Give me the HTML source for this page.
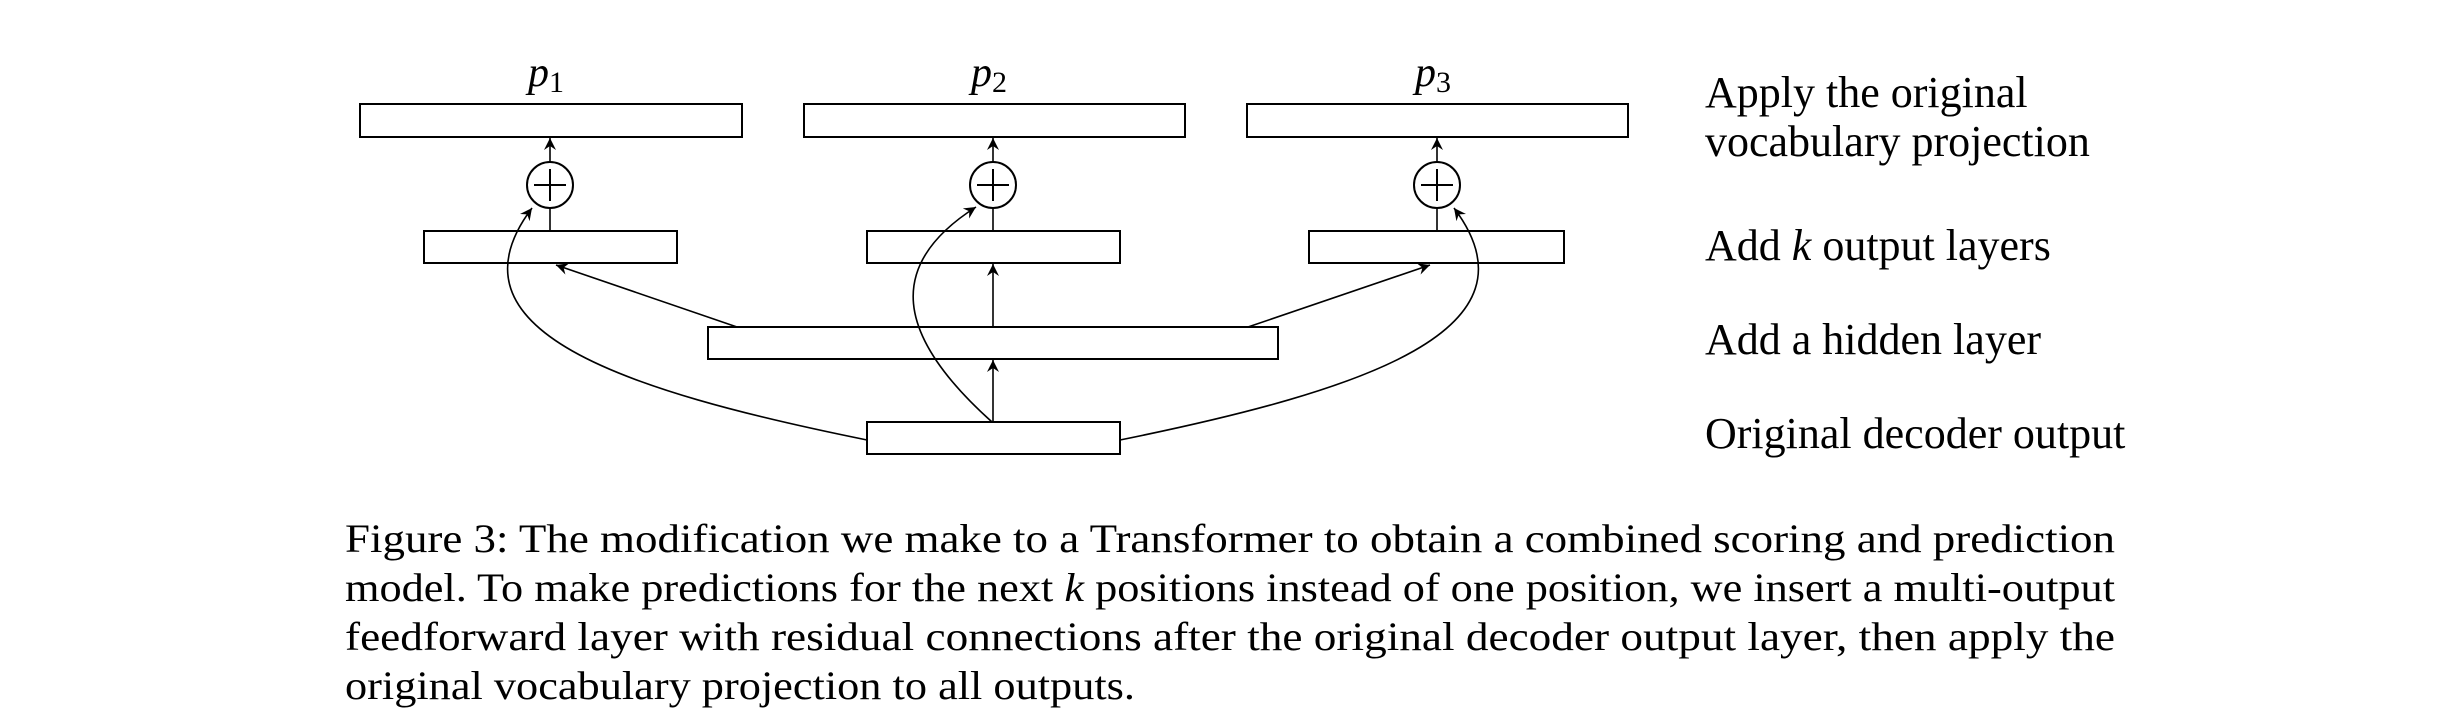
<!DOCTYPE html>
<html><head><meta charset="utf-8"><style>
html,body{margin:0;padding:0;background:#fff;}
svg{display:block;font-family:"Liberation Serif",serif;}
</style></head><body>
<svg width="2462" height="708" viewBox="0 0 2462 708" xmlns="http://www.w3.org/2000/svg">
<defs><marker id="ah" markerWidth="14" markerHeight="12" refX="12" refY="6" orient="auto" markerUnits="userSpaceOnUse"><path d="M0,0 L12,6 L0,12 L4,6 Z" fill="#000"/></marker></defs>
<g fill="#fff" stroke="#000" stroke-width="2">
<rect x="360" y="104" width="382" height="33"/>
<rect x="804" y="104" width="381" height="33"/>
<rect x="1247" y="104" width="381" height="33"/>
<rect x="424" y="231" width="253" height="32"/>
<rect x="867" y="231" width="253" height="32"/>
<rect x="1309" y="231" width="255" height="32"/>
<rect x="708" y="327" width="570" height="32"/>
<rect x="867" y="422" width="253" height="32"/>
</g>
<g stroke="#000" stroke-width="1.6" fill="none">
<line x1="550" y1="231" x2="550" y2="208"/>
<line x1="550" y1="162" x2="550" y2="138" marker-end="url(#ah)"/>
<line x1="993" y1="231" x2="993" y2="208"/>
<line x1="993" y1="162" x2="993" y2="138" marker-end="url(#ah)"/>
<line x1="1437" y1="231" x2="1437" y2="208"/>
<line x1="1437" y1="162" x2="1437" y2="138" marker-end="url(#ah)"/>
<line x1="993" y1="327" x2="993" y2="264" marker-end="url(#ah)"/>
<line x1="993" y1="422" x2="993" y2="360" marker-end="url(#ah)"/>
<line x1="737" y1="327" x2="556" y2="265" marker-end="url(#ah)"/>
<line x1="1248" y1="327" x2="1430" y2="265" marker-end="url(#ah)"/>
<path d="M867,440 C620,390 440,330 532,208" marker-end="url(#ah)"/>
<path d="M992,422 C895,335 885,265 976,207" marker-end="url(#ah)"/>
<path d="M1120,440 C1366,390 1546,330 1454,208" marker-end="url(#ah)"/>
</g>
<g stroke="#000" stroke-width="2" fill="#fff">
<circle cx="550" cy="185" r="23"/>
<circle cx="993" cy="185" r="23"/>
<circle cx="1437" cy="185" r="23"/>
<path d="M534,185H566M550,169V201M977,185H1009M993,169V201M1421,185H1453M1437,169V201" fill="none"/>
</g>
<g font-size="42" font-style="italic" text-anchor="middle">
<text x="546" y="86">p<tspan font-style="normal" font-size="30" dy="6">1</tspan></text>
<text x="989" y="86">p<tspan font-style="normal" font-size="30" dy="6">2</tspan></text>
<text x="1433" y="86">p<tspan font-style="normal" font-size="30" dy="6">3</tspan></text>
</g>
<g font-size="44">
<text x="1705" y="107">Apply the original</text>
<text x="1705" y="156">vocabulary projection</text>
<text x="1705" y="260">Add <tspan font-style="italic">k</tspan> output layers</text>
<text x="1705" y="354">Add a hidden layer</text>
<text x="1705" y="448">Original decoder output</text>
</g>
<g font-size="40">
<text x="345" y="552" textLength="1770" lengthAdjust="spacingAndGlyphs">Figure 3: The modification we make to a Transformer to obtain a combined scoring and prediction</text>
<text x="345" y="601" textLength="1770" lengthAdjust="spacingAndGlyphs">model. To make predictions for the next <tspan font-style="italic">k</tspan> positions instead of one position, we insert a multi-output</text>
<text x="345" y="650" textLength="1770" lengthAdjust="spacingAndGlyphs">feedforward layer with residual connections after the original decoder output layer, then apply the</text>
<text x="345" y="699" textLength="790" lengthAdjust="spacingAndGlyphs">original vocabulary projection to all outputs.</text>
</g>
</svg>
</body></html>
